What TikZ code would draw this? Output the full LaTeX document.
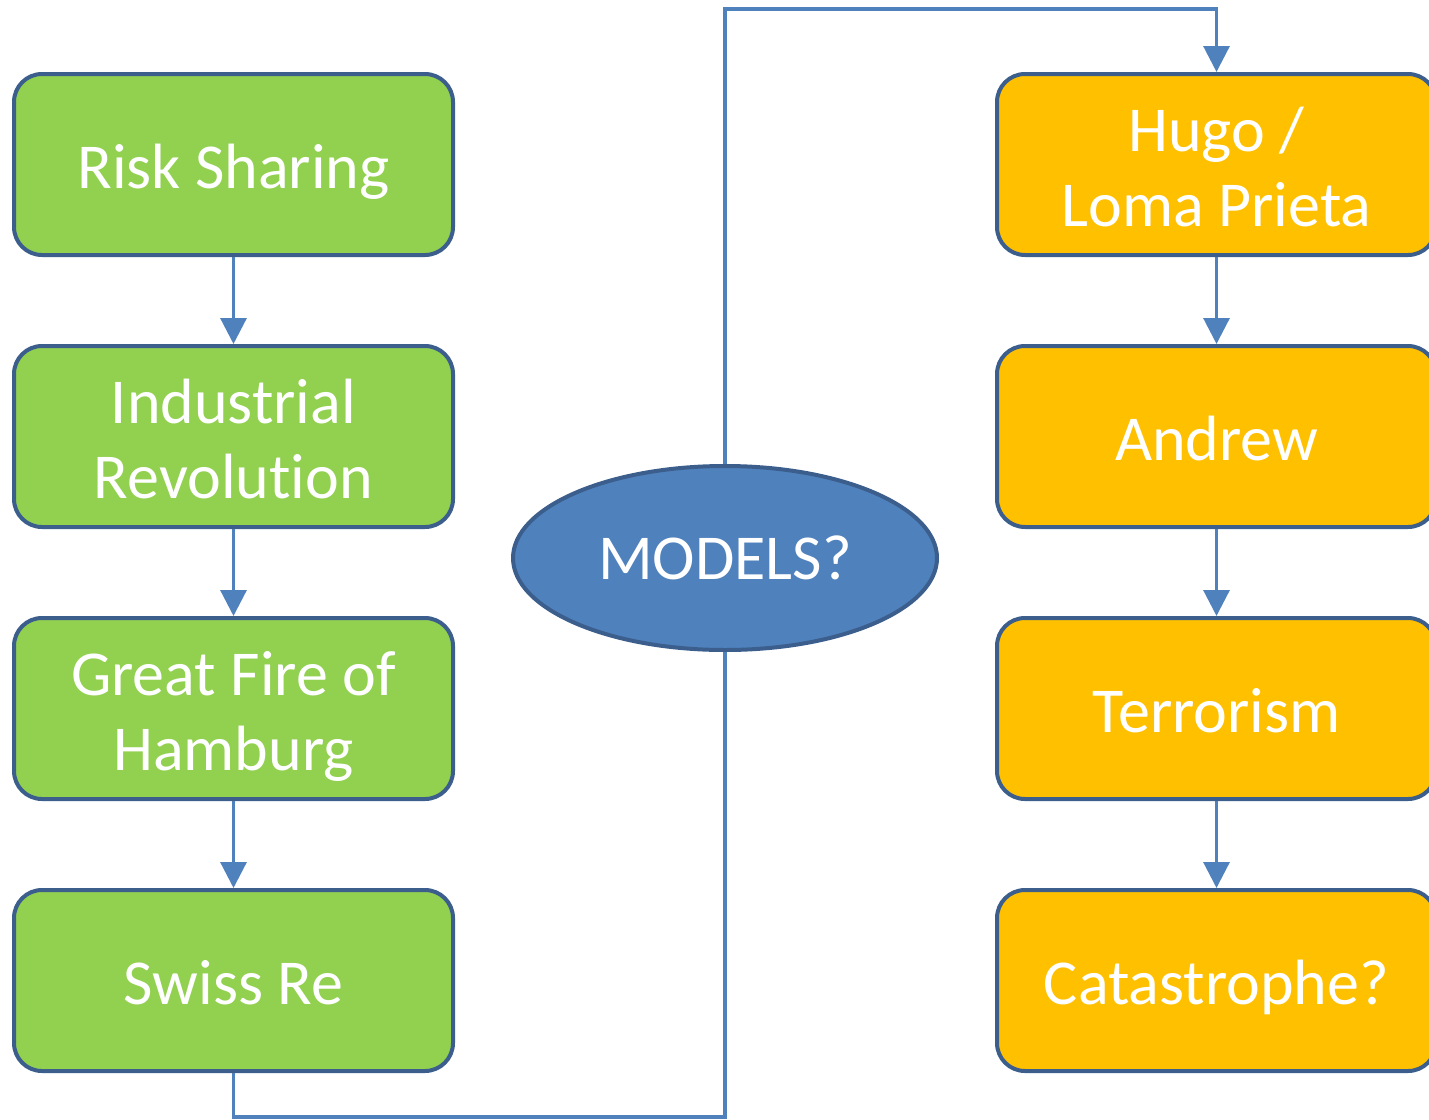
\documentclass[tikz,border=0pt]{standalone}
\usepackage{fontspec}
\setmainfont[Ligatures=NoCommon]{Carlito}
\usetikzlibrary{shapes.geometric,arrows.meta}
\definecolor{gfill}{HTML}{92D050}
\definecolor{ofill}{HTML}{FFC000}
\definecolor{bord}{HTML}{3B5E8C}
\definecolor{lnk}{HTML}{4F81BD}
\tikzset{
  x=0.5pt, y=-0.5pt,
  box/.style={draw=bord, line width=2pt, rounded corners=14pt, minimum width=219.5pt, minimum height=90.5pt, inner sep=0pt, text=white, align=center, font=\fontsize{32}{37.5}\selectfont,
    execute at begin node={\rule{0pt}{33.5pt}}, execute at end node={\rule[-10pt]{0pt}{10pt}}},
  two/.style={execute at begin node={\rule{0pt}{71.5pt}}},
  gbox/.style={box, fill=gfill},
  obox/.style={box, fill=ofill},
  link/.style={draw=lnk, line width=1.6pt},
  arr/.style={link, -{Triangle[width=13pt,length=13pt]}}
}
\begin{document}
\begin{tikzpicture}
\useasboundingbox (0,0) rectangle (1429,1119);
\node[gbox] (g1) at (233.5,164.5) {Risk Sharing};
\node[gbox, two] (g2) at (233.5,436.5) {Industrial\\Revolut\kern0pt ion};
\node[gbox, two] (g3) at (233.5,708.5) {Great Fire of\\Hamburg};
\node[gbox] (g4) at (233.5,980.5) {Swiss Re};
\node[obox, two] (o1) at (1216.5,164.5) {Hugo /\\Loma Prieta};
\node[obox] (o2) at (1216.5,436.5) {Andrew};
\node[obox] (o3) at (1216.5,708.5) {Terrorism};
\node[obox] (o4) at (1216.5,980.5) {Catastrophe?};
\node[ellipse, draw=bord, line width=2pt, fill=lnk, minimum width=212pt, minimum height=92pt, inner sep=0pt, text=white, font=\fontsize{32}{37.5}\selectfont] (m) at (725,558) {MODELS?};
\coordinate (b1) at (233.5,1117);
\coordinate (b2) at (725,1117);
\coordinate (t1) at (725,9);
\coordinate (t2) at (1216.5,9);
\draw[arr] (g1) -- (g2);
\draw[arr] (g2) -- (g3);
\draw[arr] (g3) -- (g4);
\draw[arr] (o1) -- (o2);
\draw[arr] (o2) -- (o3);
\draw[arr] (o3) -- (o4);
\draw[link] (g4.south) -- (b1) -- (b2) -- (m.south);
\draw[arr] (m.north) -- (t1) -- (t2) -- (o1.north);
\end{tikzpicture}
\end{document}
